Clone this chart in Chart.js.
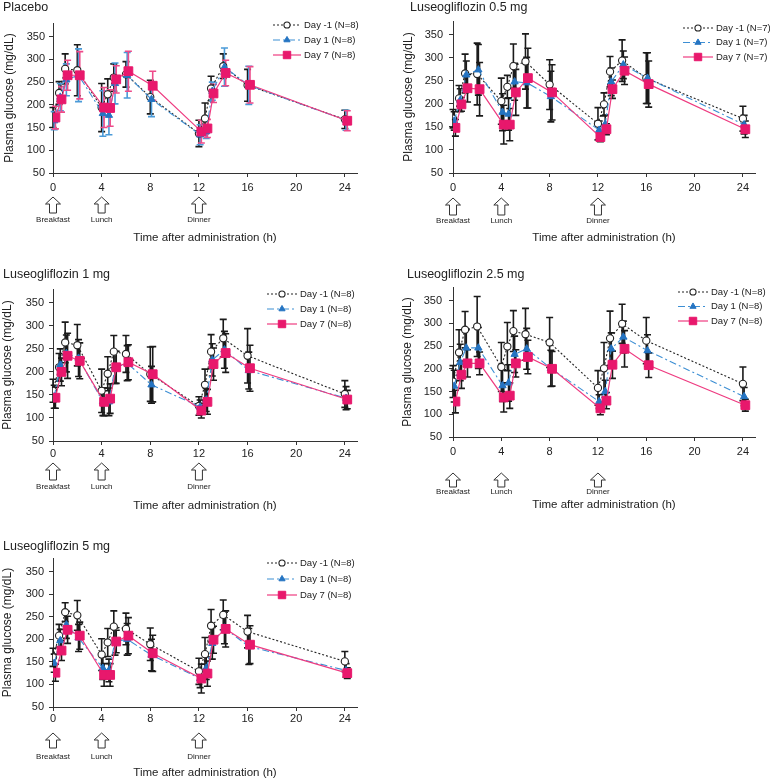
<!DOCTYPE html>
<html><head><meta charset="utf-8">
<script src="https://cdn.jsdelivr.net/npm/chart.js@4.4.1/dist/chart.umd.min.js"></script>
<style>
html,body{margin:0;padding:0;background:#fff;}
#wrap{position:relative;width:770px;height:782px;overflow:hidden;}
canvas{position:absolute;}
</style></head><body><div id="wrap">
<canvas id="c0" width="385" height="250" style="left:0;top:0"></canvas>
<canvas id="c1" width="385" height="250" style="left:385px;top:0"></canvas>
<canvas id="c2" width="385" height="270" style="left:0;top:250px"></canvas>
<canvas id="c3" width="385" height="270" style="left:385px;top:250px"></canvas>
<canvas id="c4" width="385" height="282" style="left:0;top:500px"></canvas>
</div>
<script>
// ---------- data ----------
const times = [0,0.5,1,2,4,4.5,5,6,8,12,12.5,13,14,16,24];
const xTickValues = [0,4,8,12,16,20,24];
const yTickValues = [50,100,150,200,250,300,350];
const mealTimes = [0,4,12];
const mealLabels = ['Breakfast','Lunch','Dinner'];
const seriesNames = ['Day -1','Day 1','Day 7'];
const panelTitles = ['Placebo','Luseogliflozin 0.5 mg','Luseogliflozin 1 mg','Luseogliflozin 2.5 mg','Luseogliflozin 5 mg'];
const panelN = [8,7,8,8,8];

const placeboDm1   = [172,226,279,276,194,223,260,267,217,137,170,236,285,243,168];
const placeboDm1Sd = [22,25,33,56,53,34,30,28,37,29,34,27,27,35,20];
const placeboD1    = [165,217,255,265,181,177,247,265,212,134,141,230,283,243,166];
const placeboD1Sd  = [20,30,35,58,50,43,45,50,38,22,15,20,42,42,22];
const placeboD7    = [172,212,265,265,194,193,256,274,242,141,148,225,270,244,165];
const placeboD7Sd  = [25,28,33,52,44,40,30,44,32,25,20,20,28,40,22];

const lu05Dm1   = [168,212,266,265,206,237,282,292,242,157,199,270,294,256,168];
const lu05Dm1Sd = [20,28,42,67,50,25,48,60,54,35,25,33,45,55,27];
const lu05D1    = [163,208,263,274,182,178,248,246,216,143,156,248,285,256,155];
const lu05D1Sd  = [20,25,30,55,40,35,40,55,55,20,20,30,30,55,20];
const lu05D7    = [148,199,234,232,155,155,225,256,225,128,145,232,272,243,145];
const lu05D7Sd  = [18,15,30,58,42,35,50,65,60,10,12,20,30,50,18];

const lu1Dm1   = [159,210,264,258,159,196,244,239,195,126,172,244,273,235,152];
const lu1Dm1Sd = [25,30,44,45,47,37,35,40,59,20,34,37,41,59,29];
const lu1D1    = [146,215,240,230,135,135,210,219,172,124,139,226,248,203,143];
const lu1D1Sd  = [25,35,40,40,30,30,35,38,40,15,25,35,40,40,25];
const lu1D7    = [144,200,235,224,135,142,210,221,195,116,135,217,241,208,140];
const lu1D7Sd  = [23,30,49,39,30,32,35,38,60,16,27,35,42,50,20];

const lu25Dm1   = [172,236,286,293,204,249,283,276,258,158,201,267,299,262,167];
const lu25Dm1Sd = [35,50,40,66,54,53,45,57,55,38,57,60,43,51,37];
const lu25D1    = [162,214,246,246,163,169,232,244,201,128,150,244,270,240,139];
const lu25D1Sd  = [35,40,40,45,35,40,40,45,40,15,25,35,35,35,20];
const lu25D7    = [128,187,212,212,137,141,212,226,200,113,130,209,244,208,120];
const lu25D7Sd  = [25,30,30,25,32,28,30,37,38,14,18,30,40,27,13];

const lu5Dm1   = [160,208,260,253,166,193,228,223,189,129,167,230,254,217,151];
const lu5Dm1Sd = [20,25,21,33,35,31,35,35,36,29,37,36,33,36,22];
const lu5D1    = [147,197,232,203,136,131,195,200,165,113,136,191,225,184,131];
const lu5D1Sd  = [20,25,30,30,25,25,30,35,35,20,25,35,35,40,15];
const lu5D7    = [126,175,221,208,121,121,195,208,169,113,124,199,223,188,125];
const lu5D7Sd  = [19,22,30,30,25,25,25,40,40,32,28,30,40,42,12];

const panelData = [
  [[placeboDm1,placeboDm1Sd],[placeboD1,placeboD1Sd],[placeboD7,placeboD7Sd]],
  [[lu05Dm1,lu05Dm1Sd],[lu05D1,lu05D1Sd],[lu05D7,lu05D7Sd]],
  [[lu1Dm1,lu1Dm1Sd],[lu1D1,lu1D1Sd],[lu1D7,lu1D7Sd]],
  [[lu25Dm1,lu25Dm1Sd],[lu25D1,lu25D1Sd],[lu25D7,lu25D7Sd]],
  [[lu5Dm1,lu5Dm1Sd],[lu5D1,lu5D1Sd],[lu5D7,lu5D7Sd]]
];

// ---------- layout / style ----------
const FONT = '"Liberation Sans", Arial, sans-serif';
const TXT = '#222';
const xOffsets = [0, 0.1, 0.2];
const styles = [
  {borderColor:'#222', borderDash:[2,2], borderWidth:1.1, pointStyle:'circle', pointRadius:3.6,
   pointBackgroundColor:'#fff', pointBorderColor:'#222', pointBorderWidth:1.1, order:2},
  {borderColor:'#3d8fd4', borderDash:[7,3,2,3], borderWidth:1.1, pointStyle:'triangle', pointRadius:4.2,
   pointBackgroundColor:'#2574c2', pointBorderColor:'#2574c2', pointBorderWidth:1, order:1},
  {borderColor:'#ee3b80', borderDash:[], borderWidth:1.2, pointStyle:'rect', pointRadius:6.2,
   pointBackgroundColor:'#e8186c', pointBorderColor:'#e8186c', pointBorderWidth:1, order:0}
];
const geoms = [
  {W:385,H:250,area:{left:53,right:357,top:23,bottom:173},yTitlePad:2,yTickPad:4,xTickPad:4,xTitleY:238,
   title:{x:3,y:8},legend:{x:273,y:25,dy:15,len:28},arrows:{top:197,bot:213,labelY:219},
   errColors:['#1a1a1a','#4a9ad8','#ee4b8a']},
  {W:385,H:250,area:{left:68,right:370,top:21,bottom:173},yTitlePad:16,yTickPad:6,xTickPad:4,xTitleY:238,
   title:{x:25,y:8},legend:{x:298,y:28,dy:14.5,len:30},arrows:{top:198,bot:215,labelY:220},
   errColors:['#1a1a1a','#1a1a1a','#1a1a1a']},
  {W:385,H:270,area:{left:53,right:357,top:39,bottom:191},yTitlePad:0,yTickPad:5,xTickPad:2,xTitleY:256,
   title:{x:3,y:25},legend:{x:267,y:44,dy:15,len:30},arrows:{top:213,bot:230,labelY:236},
   errColors:['#1a1a1a','#1a1a1a','#1a1a1a']},
  {W:385,H:270,area:{left:68,right:370,top:37,bottom:187},yTitlePad:15,yTickPad:7,xTickPad:4,xTitleY:255,
   title:{x:22,y:25},legend:{x:293,y:42,dy:14.5,len:30},arrows:{top:223,bot:237,labelY:241},
   errColors:['#1a1a1a','#1a1a1a','#1a1a1a']},
  {W:385,H:282,area:{left:53,right:357,top:58,bottom:207},yTitlePad:0,yTickPad:5,xTickPad:1,xTitleY:273,
   title:{x:3,y:47},legend:{x:267,y:63,dy:16,len:30},arrows:{top:233,bot:248,labelY:256},
   errColors:['#1a1a1a','#1a1a1a','#1a1a1a']}
];

const extras = {
  id:'extras',
  beforeDatasetsDraw(chart, args, o){
    const ctx = chart.ctx, ys = chart.scales.y;
    chart.data.datasets.forEach((ds,i)=>{
      const meta = chart.getDatasetMeta(i);
      ctx.save();
      ctx.strokeStyle = o.errColors[i]; ctx.lineWidth = 1.6;
      ds.errorBars.forEach((sd,j)=>{
        const pt = meta.data[j], m = ds.data[j].y;
        const yt = ys.getPixelForValue(m+sd), yb = ys.getPixelForValue(m-sd);
        ctx.beginPath();
        ctx.moveTo(pt.x,yt); ctx.lineTo(pt.x,yb);
        ctx.moveTo(pt.x-3.5,yt); ctx.lineTo(pt.x+3.5,yt);
        ctx.moveTo(pt.x-3.5,yb); ctx.lineTo(pt.x+3.5,yb);
        ctx.stroke();
      });
      ctx.restore();
    });
  },
  afterDraw(chart, args, o){
    const ctx = chart.ctx, xs = chart.scales.x;
    ctx.save();
    // panel title
    ctx.fillStyle = TXT; ctx.font = '12.5px ' + FONT;
    ctx.textBaseline = 'middle'; ctx.textAlign = 'left';
    ctx.fillText(o.title, o.titlePos.x, o.titlePos.y);
    // legend
    const L = o.legend;
    ctx.font = '9.5px ' + FONT;
    chart.data.datasets.forEach((ds,i)=>{
      const yy = L.y + i*L.dy;
      ctx.save();
      ctx.strokeStyle = ds.borderColor; ctx.lineWidth = ds.borderWidth;
      ctx.setLineDash(ds.borderDash || []);
      ctx.beginPath(); ctx.moveTo(L.x,yy); ctx.lineTo(L.x+L.len,yy); ctx.stroke();
      ctx.setLineDash([]);
      ctx.fillStyle = ds.pointBackgroundColor; ctx.strokeStyle = ds.pointBorderColor; ctx.lineWidth = ds.pointBorderWidth;
      Chart.helpers.drawPoint(ctx,{pointStyle:ds.pointStyle,radius:ds.pointRadius*0.85,rotation:0,borderWidth:ds.pointBorderWidth},L.x+L.len/2,yy);
      ctx.restore();
      ctx.fillStyle = TXT; ctx.textAlign='left'; ctx.textBaseline='middle';
      ctx.fillText(seriesNames[i] + ' (N=' + o.n + ')', L.x+L.len+3, yy);
    });
    // meal arrows
    const A = o.arrows;
    ctx.font = '8px ' + FONT; ctx.textAlign = 'center';
    mealTimes.forEach((t,k)=>{
      const cx = xs.getPixelForValue(t);
      const headH = 7, hw = 7.5, sw = 3.5;
      ctx.beginPath();
      ctx.moveTo(cx, A.top);
      ctx.lineTo(cx+hw, A.top+headH);
      ctx.lineTo(cx+sw, A.top+headH);
      ctx.lineTo(cx+sw, A.bot);
      ctx.lineTo(cx-sw, A.bot);
      ctx.lineTo(cx-sw, A.top+headH);
      ctx.lineTo(cx-hw, A.top+headH);
      ctx.closePath();
      ctx.fillStyle = '#fff'; ctx.fill();
      ctx.strokeStyle = '#333'; ctx.lineWidth = 1; ctx.stroke();
      ctx.fillStyle = TXT;
      ctx.fillText(mealLabels[k], cx, A.labelY + 1);
    });
    ctx.restore();
  }
};

function makePanel(p){
  const g = geoms[p];
  const datasets = panelData[p].map((pair,i)=>Object.assign({
    label: seriesNames[i],
    data: pair[0].map((v,j)=>({x: times[j] + xOffsets[i], y: v})),
    errorBars: pair[1],
    fill:false, tension:0, pointHoverRadius:0
  }, styles[i]));
  const titleLH = 11.5*1.2;
  new Chart(document.getElementById('c'+p), {
    type:'line',
    data:{datasets},
    plugins:[extras],
    options:{
      responsive:false, animation:false, events:[],
      layout:{padding:{left:0, top:g.area.top, right:g.W-g.area.right, bottom:g.H-(g.xTitleY+titleLH/2)}},
      plugins:{
        legend:{display:false}, tooltip:{enabled:false}, title:{display:false},
        extras:{errColors:g.errColors, title:panelTitles[p], titlePos:g.title, legend:g.legend, arrows:g.arrows, n:panelN[p]}
      },
      scales:{
        x:{type:'linear', min:0, max:25,
          afterBuildTicks(s){ s.ticks = xTickValues.map(v=>({value:v})); },
          afterFit(s){ s.height = g.xTitleY + titleLH/2 - g.area.bottom; },
          grid:{display:true, drawOnChartArea:false, drawTicks:true, tickLength:4, color:'#333'},
          border:{display:true, color:'#333', width:1},
          ticks:{color:TXT, font:{family:FONT, size:11}, padding:g.xTickPad, maxRotation:0, autoSkip:false},
          title:{display:true, text:'Time after administration (h)', color:TXT, font:{family:FONT, size:11.5}, padding:0}
        },
        y:{type:'linear', min:50, max:380,
          afterBuildTicks(s){ s.ticks = yTickValues.map(v=>({value:v})); },
          afterFit(s){ s.width = g.area.left; },
          grid:{display:true, drawOnChartArea:false, drawTicks:true, tickLength:4, color:'#333'},
          border:{display:true, color:'#333', width:1},
          ticks:{color:TXT, font:{family:FONT, size:11}, padding:g.yTickPad},
          title:{display:true, text:'Plasma glucose (mg/dL)', color:TXT, font:{family:FONT, size:12}, padding:{top:g.yTitlePad, bottom:0}}
        }
      }
    }
  });
}
for (let p=0;p<5;p++) makePanel(p);
</script>
</body></html>
